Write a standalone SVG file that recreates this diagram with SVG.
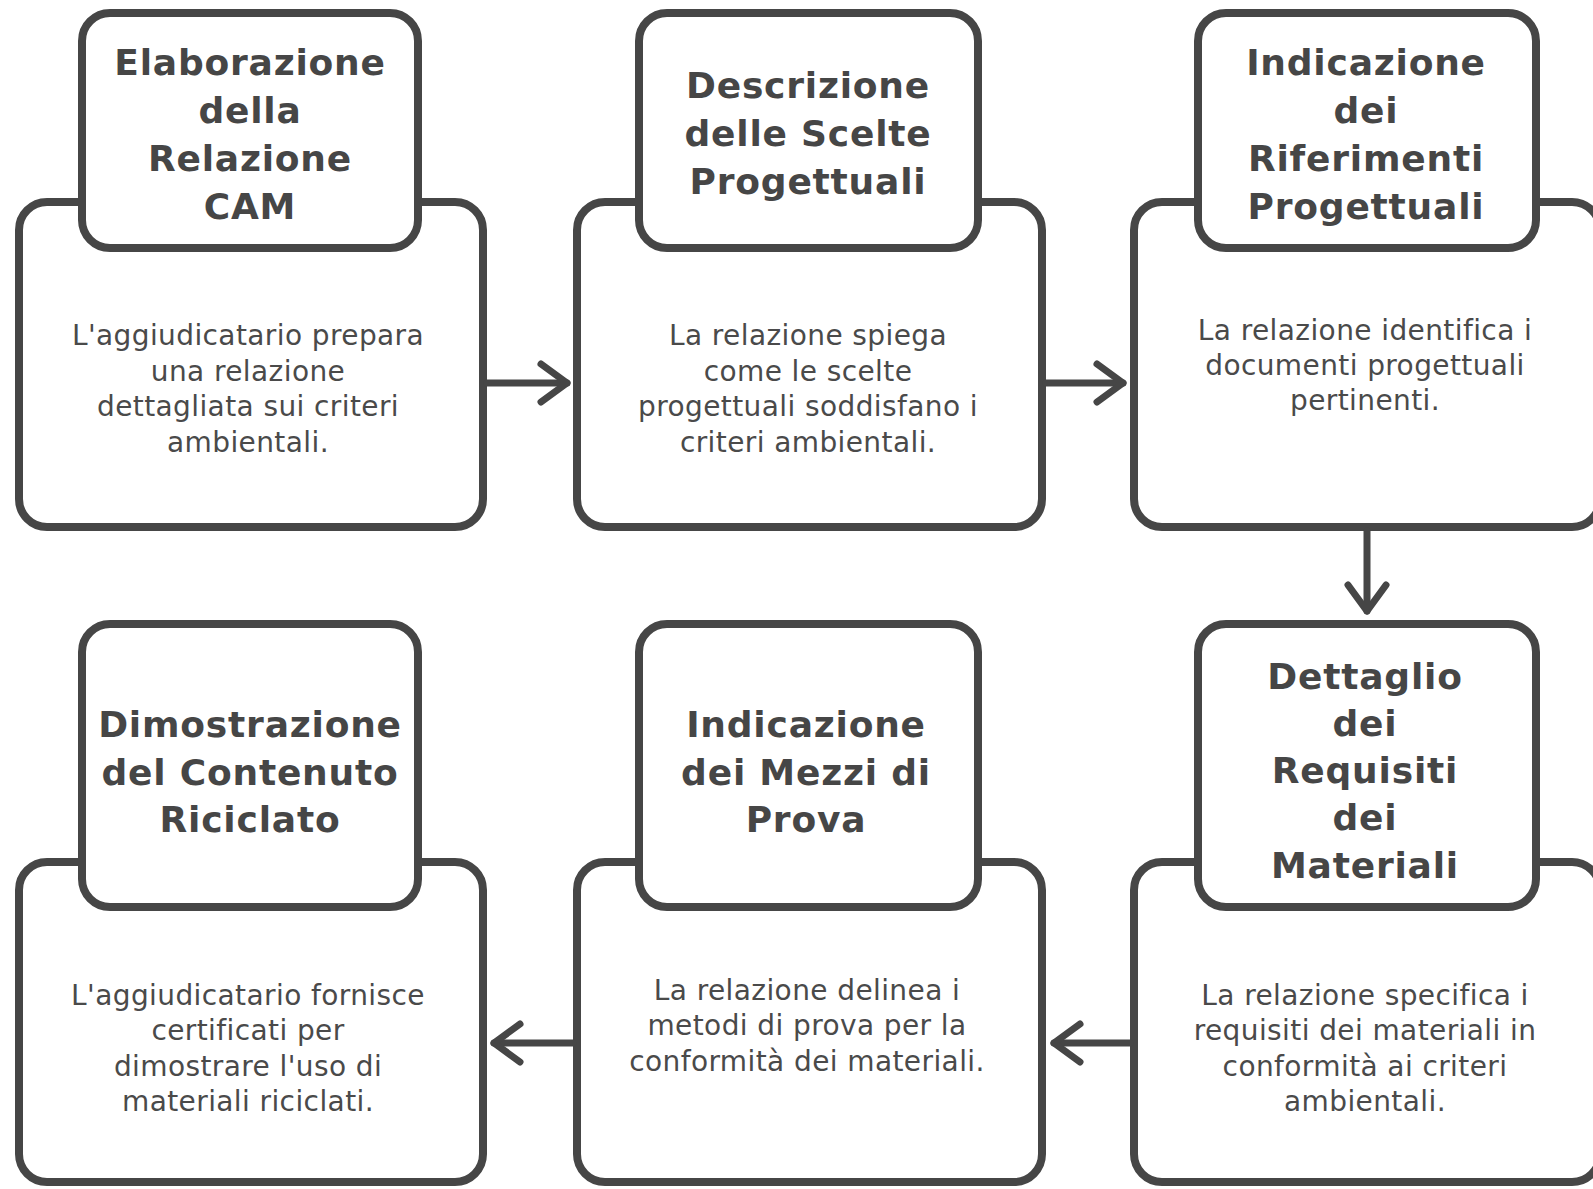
<svg xmlns="http://www.w3.org/2000/svg" width="1593" height="1189" viewBox="0 0 1593 1189">
<style>
.box{fill:#ffffff;stroke:#464646;stroke-width:8;stroke-linejoin:round}
.title{font-family:"DejaVu Sans",sans-serif;font-weight:bold;font-size:36px;letter-spacing:0.8px;fill:#464646;text-anchor:middle}
.body{font-family:"DejaVu Sans",sans-serif;font-size:28px;letter-spacing:0.4px;fill:#4a4a4a;text-anchor:middle}
.edge{fill:none;stroke:#464646;stroke-width:7;stroke-linecap:round}
</style>
<defs>
<marker id="arr" markerUnits="userSpaceOnUse" viewBox="0 0 34 48" refX="30" refY="24" markerWidth="34" markerHeight="48" orient="auto">
<path d="M4,5 L30,24 L4,43" fill="none" stroke="#464646" stroke-width="7" stroke-linecap="round" stroke-linejoin="round"/>
</marker>
</defs>
<rect width="1593" height="1189" fill="#ffffff"/>

<g id="node-elaborazione">
<rect class="box" x="19" y="202" width="464" height="325" rx="28"/>
<rect class="box" x="82" y="13" width="336" height="235" rx="28"/>
<text class="title" x="250" y="75">Elaborazione</text>
<text class="title" x="250" y="123">della</text>
<text class="title" x="250" y="171">Relazione</text>
<text class="title" x="250" y="219">CAM</text>
<text class="body" x="248" y="345">L'aggiudicatario prepara</text>
<text class="body" x="248" y="380.5">una relazione</text>
<text class="body" x="248" y="416">dettagliata sui criteri</text>
<text class="body" x="248" y="451.5">ambientali.</text>
</g>

<g id="node-descrizione">
<rect class="box" x="577" y="202" width="465" height="325" rx="28"/>
<rect class="box" x="639" y="13" width="339" height="235" rx="28"/>
<text class="title" x="808" y="98">Descrizione</text>
<text class="title" x="808" y="146">delle Scelte</text>
<text class="title" x="808" y="194">Progettuali</text>
<text class="body" x="808" y="345">La relazione spiega</text>
<text class="body" x="808" y="380.5">come le scelte</text>
<text class="body" x="808" y="416">progettuali soddisfano i</text>
<text class="body" x="808" y="451.5">criteri ambientali.</text>
</g>

<g id="node-riferimenti">
<rect class="box" x="1134" y="202" width="466" height="325" rx="28"/>
<rect class="box" x="1198" y="13" width="338" height="235" rx="28"/>
<text class="title" x="1366" y="75">Indicazione</text>
<text class="title" x="1366" y="123">dei</text>
<text class="title" x="1366" y="171">Riferimenti</text>
<text class="title" x="1366" y="219">Progettuali</text>
<text class="body" x="1365" y="340">La relazione identifica i</text>
<text class="body" x="1365" y="375">documenti progettuali</text>
<text class="body" x="1365" y="410">pertinenti.</text>
</g>

<g id="node-requisiti">
<rect class="box" x="1134" y="862" width="466" height="320" rx="28"/>
<rect class="box" x="1198" y="624" width="338" height="283" rx="28"/>
<text class="title" x="1365" y="689">Dettaglio</text>
<text class="title" x="1365" y="736">dei</text>
<text class="title" x="1365" y="783">Requisiti</text>
<text class="title" x="1365" y="830">dei</text>
<text class="title" x="1365" y="878">Materiali</text>
<text class="body" x="1365" y="1005">La relazione specifica i</text>
<text class="body" x="1365" y="1040">requisiti dei materiali in</text>
<text class="body" x="1365" y="1075.5">conformità ai criteri</text>
<text class="body" x="1365" y="1111">ambientali.</text>
</g>

<g id="node-mezzi">
<rect class="box" x="577" y="862" width="465" height="320" rx="28"/>
<rect class="box" x="639" y="624" width="339" height="283" rx="28"/>
<text class="title" x="806" y="737">Indicazione</text>
<text class="title" x="806" y="784.5">dei Mezzi di</text>
<text class="title" x="806" y="832">Prova</text>
<text class="body" x="807" y="1000">La relazione delinea i</text>
<text class="body" x="807" y="1035">metodi di prova per la</text>
<text class="body" x="807" y="1070.5">conformità dei materiali.</text>
</g>

<g id="node-riciclato">
<rect class="box" x="19" y="862" width="464" height="320" rx="28"/>
<rect class="box" x="82" y="624" width="336" height="283" rx="28"/>
<text class="title" x="250" y="737">Dimostrazione</text>
<text class="title" x="250" y="784.5">del Contenuto</text>
<text class="title" x="250" y="832">Riciclato</text>
<text class="body" x="248" y="1005">L'aggiudicatario fornisce</text>
<text class="body" x="248" y="1040">certificati per</text>
<text class="body" x="248" y="1075.5">dimostrare l'uso di</text>
<text class="body" x="248" y="1111">materiali riciclati.</text>
</g>

<g id="connectors">
<path class="edge" d="M487,383 L567,383" marker-end="url(#arr)"/>
<path class="edge" d="M1046,383 L1123,383" marker-end="url(#arr)"/>
<path class="edge" d="M1367,531 L1367,611" marker-end="url(#arr)"/>
<path class="edge" d="M1130,1043 L1054,1043" marker-end="url(#arr)"/>
<path class="edge" d="M573,1043 L494,1043" marker-end="url(#arr)"/>
</g>
</svg>
